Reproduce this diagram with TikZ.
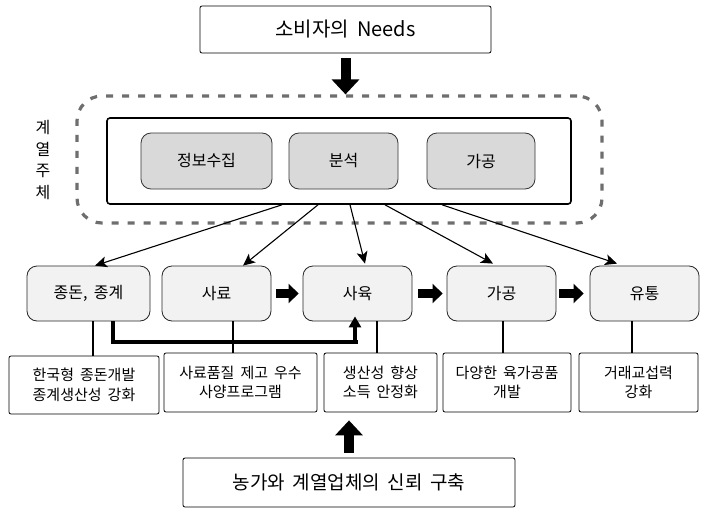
\documentclass[tikz,border=0pt]{standalone}
\usepackage{fontspec}
\setmainfont{Noto Sans CJK KR}[WordSpace=1.8]
\usetikzlibrary{arrows.meta}
\definecolor{grpgray}{HTML}{6E6E6E}
\definecolor{cellgray}{HTML}{D9D9D9}
\definecolor{stagegray}{HTML}{F2F2F2}
\begin{document}
\begin{tikzpicture}[x=1pt,y=-1pt,
  plainbox/.style={draw=black, line width=0.8pt, rounded corners=2pt, fill=white,
    align=center, inner sep=0pt},
  cellbox/.style={draw=black!80, line width=0.8pt, rounded corners=10pt, fill=cellgray,
    minimum height=56pt, inner sep=0pt, font=\fontsize{16}{19}\selectfont},
  stagebox/.style={draw=black!85, line width=0.8pt, rounded corners=10pt, fill=stagegray,
    minimum height=55pt, inner sep=0pt, font=\fontsize{16}{19}\selectfont},
  notebox/.style={plainbox, minimum height=58pt, font=\fontsize{15}{19.5}\selectfont},
  feeder/.style={line width=1.1pt, -{Stealth[length=12pt,width=11pt,inset=3pt]}},
  tie/.style={line width=1.1pt},
  blockarrow/.style={line width=9pt, -{Triangle[length=10pt,width=19pt]}},
  bigblock/.style={line width=10pt, -{Triangle[length=15pt,width=27pt]}},
  backflow/.style={line width=3.5pt, -{Triangle[length=11pt,width=12pt]}}
]
\useasboundingbox (0,0) rectangle (708,508);

% consumer needs
\node[plainbox, minimum width=291pt, minimum height=47pt, font=\fontsize{20}{23}\selectfont]
  (needs) at (345.5,29.5) {소비자의 Needs};

% integrated operator group
\node[draw=grpgray, line width=3.2pt, dash pattern=on 7pt off 9pt, rounded corners=25pt,
  minimum width=525pt, minimum height=127pt] (grp) at (339.5,159.5) {};
\node[draw=black, line width=1.6pt, rounded corners=3pt,
  minimum width=464pt, minimum height=86pt] (core) at (339,161) {};
\node[cellbox, minimum width=131pt] (collect) at (206.5,161) {정보수집};
\node[cellbox, minimum width=109pt] (analyse) at (343.5,161) {분석};
\node[cellbox, minimum width=108pt] (process) at (481,161) {가공};
\node[align=center, font=\fontsize{16}{21.5}\selectfont] (grplabel) at (43,160) {계\\열\\주\\체};

% value chain stages
\node[stagebox, minimum width=123pt] (breed) at (88.5,293.5) {종돈, 종계};
\node[stagebox, minimum width=109pt] (feed) at (216.5,293.5) {사료};
\node[stagebox, minimum width=109pt] (raise) at (357.5,293.5) {사육};
\node[stagebox, minimum width=109pt] (meat) at (501.5,293.5) {가공};
\node[stagebox, minimum width=109pt] (dist) at (644.5,293.5) {유통};

% stage notes
\node[notebox, minimum width=150pt] (n1) at (84,385) {한국형 종돈개발\\종계생산성 강화};
\node[notebox, minimum width=153pt, minimum height=59pt] (n2) at (240.5,382.5) {사료품질 제고 우수\\사양프로그램};
\node[notebox, minimum width=113pt, minimum height=59pt] (n3) at (380.5,382.5) {생산성 향상\\소득 안정화};
\node[notebox, minimum width=128pt, minimum height=59pt] (n4) at (507,382.5) {다양한 육가공품\\개발};
\node[notebox, minimum width=119pt, minimum height=59pt] (n5) at (638.5,382.5) {거래교섭력\\강화};

% trust foundation
\node[plainbox, minimum width=332pt, minimum height=49pt, font=\fontsize{19}{22}\selectfont]
  (trust) at (349,482.5) {농가와 계열업체의 신뢰 구축};

% block arrows
\draw[bigblock] ([yshift=-5pt]needs.south) -- (needs.south |- grp.north);
\draw[bigblock, shorten >=8pt] ([yshift=5pt]trust.north) -- (trust.north |- n3.south);
\draw[blockarrow, shorten <=5pt, shorten >=4pt] (feed.east) -- (raise.west);
\draw[blockarrow, shorten <=6pt, shorten >=4pt] (raise.east) -- (meat.west);
\draw[blockarrow, shorten <=3pt, shorten >=6pt] (meat.east) -- (dist.west);

% feeders from the operator core
\draw[feeder] ([xshift=-57pt]core.south) -- ([xshift=6.5pt]breed.north);
\draw[feeder] ([xshift=-21pt]core.south) -- ([xshift=26.5pt]feed.north);
\draw[feeder] ([xshift=11pt]core.south) -- ([xshift=7.5pt,yshift=2pt]raise.north);
\draw[feeder] ([xshift=46pt]core.south) -- ([xshift=-8.5pt,yshift=2pt]meat.north);
\draw[feeder] ([xshift=103pt]core.south) -- ([xshift=-27.5pt,yshift=2pt]dist.north);

% stage-to-note ties
\draw[tie] ([xshift=4.5pt]breed.south) -- ([xshift=4.5pt]breed.south |- n1.north);
\draw[tie] ([xshift=16.5pt]feed.south) -- ([xshift=16.5pt]feed.south |- n2.north);
\draw[tie] ([xshift=19.5pt]raise.south) -- ([xshift=19.5pt]raise.south |- n3.north);
\draw[tie] ([xshift=1.5pt]meat.south) -- ([xshift=1.5pt]meat.south |- n4.north);
\draw[tie] ([xshift=-12.5pt]dist.south) -- ([xshift=-12.5pt]dist.south |- n5.north);

% breeding stock flowing into raising
\coordinate (bend) at (113,342);
\draw[backflow, line join=miter] ([xshift=24.5pt]breed.south) -- (bend)
  -- (bend -| raise.south) ++(-2.5,0) -- ([xshift=-2.5pt,yshift=5pt]raise.south);
\end{tikzpicture}
\end{document}
